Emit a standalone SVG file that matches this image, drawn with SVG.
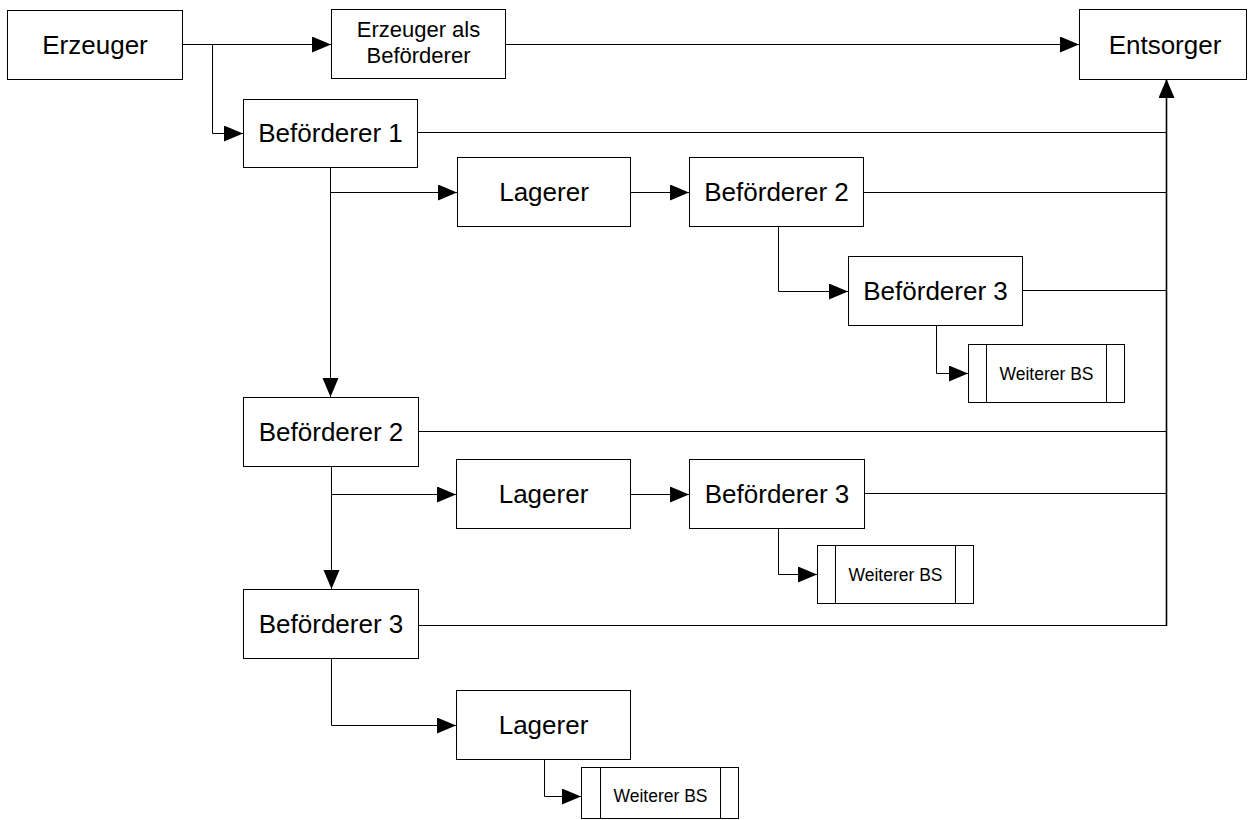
<svg xmlns="http://www.w3.org/2000/svg" width="1248" height="820" viewBox="0 0 1248 820">
  <style>
    .box { fill: #ffffff; stroke: #000000; stroke-width: 1; }
    .lbl { font-family: "Liberation Sans", Arial, sans-serif; font-size: 26px; fill: #000000; text-anchor: middle; }
    .lbl-m { font-family: "Liberation Sans", Arial, sans-serif; font-size: 22px; fill: #000000; text-anchor: middle; }
    .lbl-s { font-family: "Liberation Sans", Arial, sans-serif; font-size: 17.5px; fill: #000000; text-anchor: middle; }
    .wire { fill: none; stroke: #000000; stroke-width: 1; }
    .arr { marker-end: url(#head); }
  </style>
  <defs>
    <marker id="head" markerUnits="userSpaceOnUse" markerWidth="20" markerHeight="18" refX="19" refY="8" orient="auto">
      <path d="M0,0 L19,8 L0,16 Z" fill="#000000"/>
    </marker>
  </defs>
  <rect width="1248" height="820" fill="#ffffff"/>

  <!-- connectors -->
  <g id="connectors">
    <path class="wire arr" d="M182 44.5 H331"/>
    <path class="wire arr" d="M212.5 44.5 V133.5 H243"/>
    <path class="wire arr" d="M505 44.5 H1079"/>
    <path class="wire" d="M417 132.5 H1166.5"/>
    <path class="wire arr" d="M1166.5 626 V79" style="stroke-width:1.6"/>
    <path class="wire arr" d="M330.5 167 V397"/>
    <path class="wire arr" d="M330.5 192.5 H457"/>
    <path class="wire arr" d="M630 192.5 H689"/>
    <path class="wire" d="M863 192.5 H1166.5"/>
    <path class="wire arr" d="M778.5 227 V291.5 H848"/>
    <path class="wire" d="M1022 290.5 H1166.5"/>
    <path class="wire arr" d="M936.5 325 V373.5 H968"/>
    <path class="wire" d="M418 431.5 H1166.5"/>
    <path class="wire arr" d="M331.5 466 V589"/>
    <path class="wire arr" d="M331.5 494.5 H456"/>
    <path class="wire arr" d="M630 494.5 H689"/>
    <path class="wire" d="M864 493.5 H1166.5"/>
    <path class="wire arr" d="M778.5 529 V574.5 H817"/>
    <path class="wire" d="M418 625.5 H1166.5"/>
    <path class="wire arr" d="M331.5 658 V725.5 H456"/>
    <path class="wire arr" d="M544.5 760 V796.5 H581"/>
  </g>

  <g id="erzeuger">
    <rect class="box" x="7.5" y="10.5" width="175" height="69"/>
    <text class="lbl" x="95" y="54">Erzeuger</text>
  </g>
  <g id="erzeuger-als-befoerderer">
    <rect class="box" x="331.5" y="9.5" width="174" height="69"/>
    <text class="lbl-m" x="418.5" y="37">Erzeuger als</text>
    <text class="lbl-m" x="418.5" y="63">Beförderer</text>
  </g>
  <g id="entsorger">
    <rect class="box" x="1079.5" y="9.5" width="167" height="70"/>
    <text class="lbl" x="1165" y="54">Entsorger</text>
  </g>

  <g id="befoerderer-1">
    <rect class="box" x="243.5" y="99.5" width="174" height="68"/>
    <text class="lbl" x="330.5" y="142">Beförderer 1</text>
  </g>
  <g id="lagerer-1">
    <rect class="box" x="457.5" y="157.5" width="173" height="69"/>
    <text class="lbl" x="544" y="201">Lagerer</text>
  </g>
  <g id="befoerderer-2a">
    <rect class="box" x="689.5" y="157.5" width="174" height="69"/>
    <text class="lbl" x="776.5" y="201">Beförderer 2</text>
  </g>
  <g id="befoerderer-3a">
    <rect class="box" x="848.5" y="256.5" width="174" height="69"/>
    <text class="lbl" x="935.5" y="300">Beförderer 3</text>
  </g>
  <g id="weiterer-bs-1">
    <rect class="box" x="968.5" y="344.5" width="156" height="58"/>
    <path class="wire" d="M986.5 344.5 V402.5 M1106.5 344.5 V402.5"/>
    <text class="lbl-s" x="1046.5" y="380">Weiterer BS</text>
  </g>

  <g id="befoerderer-2">
    <rect class="box" x="243.5" y="397.5" width="175" height="69"/>
    <text class="lbl" x="331" y="441">Beförderer 2</text>
  </g>
  <g id="lagerer-2">
    <rect class="box" x="456.5" y="459.5" width="174" height="69"/>
    <text class="lbl" x="543.5" y="503">Lagerer</text>
  </g>
  <g id="befoerderer-3b">
    <rect class="box" x="689.5" y="459.5" width="175" height="69"/>
    <text class="lbl" x="777" y="503">Beförderer 3</text>
  </g>
  <g id="weiterer-bs-2">
    <rect class="box" x="817.5" y="545.5" width="156" height="58"/>
    <path class="wire" d="M835.5 545.5 V603.5 M955.5 545.5 V603.5"/>
    <text class="lbl-s" x="895.5" y="581">Weiterer BS</text>
  </g>

  <g id="befoerderer-3">
    <rect class="box" x="243.5" y="589.5" width="175" height="69"/>
    <text class="lbl" x="331" y="633">Beförderer 3</text>
  </g>
  <g id="lagerer-3">
    <rect class="box" x="456.5" y="690.5" width="174" height="69"/>
    <text class="lbl" x="543.5" y="734">Lagerer</text>
  </g>
  <g id="weiterer-bs-3">
    <rect class="box" x="581.5" y="767.5" width="157" height="51"/>
    <path class="wire" d="M600.5 767.5 V818.5 M720.5 767.5 V818.5"/>
    <text class="lbl-s" x="660.5" y="802">Weiterer BS</text>
  </g>
</svg>
